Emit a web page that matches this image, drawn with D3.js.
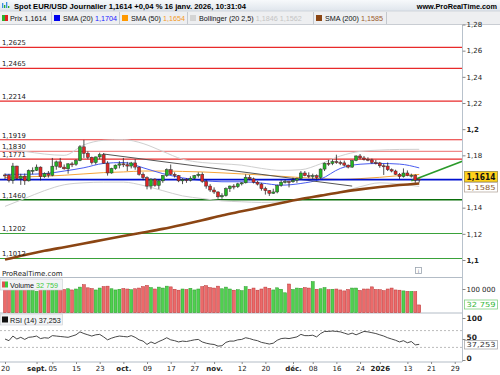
<!doctype html>
<html>
<head>
<meta charset="utf-8">
<title>Spot EUR/USD</title>
<style>
  body { margin: 0; background: #fff; }
  svg { display: block; font-family: "DejaVu Sans", Verdana, sans-serif; }
</style>
</head>
<body>
<div id="here"></div>
<script src="https://d3js.org/d3.v7.min.js"></script>
<script>
var w = 500, h = 375;

// daily candles, 20 aug 2025 -> 16 jan 2026
var open = [1.1650,1.1649,1.1609,1.1718,1.1622,1.1641,1.1605,1.1683,
  1.1686,1.1710,1.1637,1.1660,1.1648,1.1717,1.1750,1.1710,1.1697,1.1735,1.1732,1.1760,1.1865,1.1815,1.1785,1.1745,1.1788,1.1805,1.1740,1.1665,1.1700,1.1725,
  1.1735,1.1728,1.1718,1.1742,1.1710,1.1655,1.1630,1.1565,1.1618,1.1570,1.1605,1.1645,1.1690,1.1655,1.1645,1.1605,1.1615,1.1610,1.1625,1.1645,1.1655,1.1600,1.1565,
  1.1535,1.1520,1.1483,1.1492,1.1545,1.1565,1.1560,1.1582,1.1590,1.1632,1.1620,1.1595,1.1580,1.1545,1.1530,1.1510,1.1520,1.1570,1.1595,1.1600,
  1.1598,1.1610,1.1622,1.1665,1.1645,1.1640,1.1645,1.1630,1.1695,1.1740,1.1738,1.1752,1.1745,1.1742,1.1725,1.1710,1.1760,1.1795,1.1780,1.1770,1.1765,1.1745,
  1.1742,1.1720,1.1718,1.1690,1.1680,1.1655,1.1638,1.1665,1.1645,1.1648,1.1619];
var high = [1.1662,1.1658,1.1742,1.1720,1.1659,1.1661,1.1692,1.1708,
  1.1730,1.1715,1.1670,1.1680,1.1780,1.1760,1.1780,1.1730,1.1740,1.1750,1.1770,1.1878,1.1918,1.1830,1.1790,1.1790,1.1820,1.1818,1.1755,1.1705,1.1730,1.1755,
  1.1780,1.1750,1.1750,1.1770,1.1715,1.1670,1.1640,1.1625,1.1625,1.1615,1.1650,1.1700,1.1730,1.1670,1.1650,1.1625,1.1625,1.1640,1.1650,1.1670,1.1670,1.1615,1.1580,
  1.1555,1.1525,1.1510,1.1555,1.1570,1.1580,1.1590,1.1595,1.1655,1.1650,1.1630,1.1605,1.1590,1.1560,1.1535,1.1545,1.1575,1.1610,1.1615,1.1605,
  1.1630,1.1630,1.1680,1.1680,1.1670,1.1660,1.1655,1.1700,1.1745,1.1765,1.1770,1.1805,1.1760,1.1760,1.1730,1.1765,1.1800,1.1810,1.1795,1.1785,1.1775,1.1765,
  1.1750,1.1735,1.1745,1.1700,1.1690,1.1665,1.1700,1.1685,1.1660,1.1655,1.1622];
var low = [1.1617,1.1593,1.1583,1.1613,1.1574,1.1574,1.1600,1.1655,
  1.1680,1.1608,1.1628,1.1630,1.1640,1.1690,1.1705,1.1690,1.1660,1.1710,1.1720,1.1755,1.1780,1.1770,1.1730,1.1730,1.1770,1.1735,1.1645,1.1660,1.1690,1.1700,
  1.1710,1.1680,1.1700,1.1690,1.1645,1.1610,1.1540,1.1540,1.1560,1.1542,1.1590,1.1635,1.1650,1.1630,1.1595,1.1580,1.1590,1.1600,1.1615,1.1630,1.1590,1.1545,1.1520,
  1.1505,1.1468,1.1468,1.1485,1.1520,1.1540,1.1550,1.1570,1.1585,1.1610,1.1585,1.1570,1.1530,1.1500,1.1490,1.1505,1.1510,1.1560,1.1585,1.1555,
  1.1590,1.1590,1.1615,1.1640,1.1625,1.1620,1.1615,1.1620,1.1680,1.1720,1.1725,1.1735,1.1725,1.1715,1.1700,1.1705,1.1755,1.1770,1.1760,1.1755,1.1735,1.1730,
  1.1705,1.1650,1.1680,1.1670,1.1650,1.1620,1.1630,1.1640,1.1630,1.1590,1.1592];
var close = [1.1649,1.1609,1.1718,1.1622,1.1641,1.1605,1.1683,1.1686,
  1.1710,1.1637,1.1660,1.1648,1.1717,1.1750,1.1710,1.1697,1.1735,1.1732,1.1760,1.1865,1.1815,1.1785,1.1745,1.1788,1.1805,1.1740,1.1665,1.1700,1.1725,1.1735,
  1.1728,1.1718,1.1742,1.1710,1.1655,1.1630,1.1565,1.1618,1.1570,1.1605,1.1645,1.1690,1.1655,1.1645,1.1605,1.1615,1.1610,1.1625,1.1645,1.1655,1.1600,1.1565,1.1535,
  1.1520,1.1483,1.1492,1.1545,1.1565,1.1560,1.1582,1.1590,1.1632,1.1620,1.1595,1.1580,1.1545,1.1530,1.1510,1.1520,1.1570,1.1595,1.1600,1.1598,
  1.1610,1.1622,1.1665,1.1645,1.1640,1.1645,1.1630,1.1695,1.1740,1.1738,1.1752,1.1745,1.1742,1.1725,1.1710,1.1760,1.1795,1.1780,1.1770,1.1765,1.1745,1.1742,
  1.1720,1.1718,1.1690,1.1680,1.1655,1.1638,1.1665,1.1645,1.1648,1.1610,1.1614];
var volume = [98000,101000,112000,97000,103000,99000,96000,94000,
  90000,104000,100000,97000,115000,96000,100000,98000,101000,96000,100000,108000,118000,105000,102000,96000,104000,110000,112000,101000,96000,99000,
  102000,100000,97000,101000,104000,110000,115000,106000,100000,108000,104000,112000,109000,99000,95000,100000,98000,103000,96000,100000,110000,114000,106000,
  104000,112000,101000,108000,100000,95000,97000,93000,110000,99000,104000,95000,100000,108000,103000,96000,105000,99000,84000,121000,
  98000,104000,103000,106000,104000,131000,99000,101000,106000,97000,99000,100000,96000,92000,98000,104000,104000,94000,100000,100000,109000,98000,
  97000,93000,100000,104000,96000,95000,92000,90000,90000,89000,32759];
var rsi = [50,46,57,50,54,49,54,55,
  57,51,53,52,58,57,56,55,54,57,60,67,63,60,57,60,61,55,48,52,55,57,
  56,55,58,54,48,45,37,43,39,44,48,53,48,46,43,45,44,46,48,49,43,40,38,
  37,33,34,42,45,45,48,49,53,51,48,46,42,40,38,40,47,51,52,51,
  53,55,61,58,58,59,55,63,68,68,69,68,67,64,61,64,60,64,68,67,65,63,
  60,57,53,50,47,43,46,41,44,36,37.253];

// overlays read every 5 bars
var smpIdx = [0,5,10,15,20,25,30,35,40,45,50,55,60,65,70,75,80,85,90,95,100,105];
var sma20  = [1.1655,1.1655,1.1660,1.1680,1.1705,1.1738,1.1745,1.1705,1.1660,1.1628,1.1608,1.1598,1.1598,1.1588,1.1572,1.1585,1.1618,1.1700,1.1732,1.1738,1.1733,1.1704];
var sma50  = [1.1630,1.1635,1.1640,1.1648,1.1658,1.1668,1.1673,1.1680,1.1680,1.1677,1.1673,1.1666,1.1658,1.1650,1.1640,1.1630,1.1622,1.1616,1.1622,1.1632,1.1645,1.1654];
var sma200 = [1.1003,1.1038,1.1070,1.1098,1.1126,1.1155,1.1183,1.1210,1.1238,1.1270,1.1304,1.1340,1.1372,1.1404,1.1436,1.1466,1.1492,1.1518,1.1540,1.1558,1.1573,1.1585];
var bbUp   = [1.1850,1.1830,1.1810,1.1800,1.1880,1.1915,1.1920,1.1890,1.1830,1.1770,1.1745,1.1735,1.1725,1.1700,1.1685,1.1690,1.1735,1.1795,1.1830,1.1840,1.1845,1.1846];
var bbLow  = [1.1410,1.1470,1.1530,1.1575,1.1590,1.1595,1.1595,1.1570,1.1530,1.1490,1.1470,1.1452,1.1445,1.1440,1.1445,1.1465,1.1495,1.1520,1.1560,1.1590,1.1580,1.1562];

// levels and trend lines
var resist = [1.2625, 1.2465, 1.2214, 1.1919, 1.1830, 1.1771];
var support = [1.1460, 1.1202, 1.1012];
var pivot = 1.1614;
var downIdx = [25, 88], downVal = [1.1810, 1.1565];
var upIdx = [103, 116], upVal = [1.1606, 1.1756];

// 1,16 sits under the price box, as in the original
var priceTicks = [1.1, 1.12, 1.14, 1.18, 1.2, 1.22, 1.24, 1.26, 1.28];
var tickDays = ["2025-08-20","2025-09-01","2025-09-05","2025-09-15","2025-09-23","2025-10-01","2025-10-09","2025-10-17","2025-10-27","2025-11-03",
  "2025-11-12","2025-11-20","2025-12-01","2025-12-08","2025-12-16","2025-12-24","2026-01-02","2026-01-13","2026-01-21","2026-01-29"];
var tickLabels = ["20","sept.","05","15","23","oct.","09","17","27","nov.","12","20","déc.","08","16","24","2026","13","21","29"];

// trading days (weekdays without 25 dec / 1 jan)
var holidays = ["2025-12-25", "2026-01-01"];
var days = [];
for (var d = new Date(Date.UTC(2025, 7, 20)); d <= new Date(Date.UTC(2026, 0, 30)); d.setUTCDate(d.getUTCDate() + 1)) {
  var s = d.toISOString().slice(0, 10);
  if (d.getUTCDay() > 0 && d.getUTCDay() < 6 && holidays.indexOf(s) < 0) days.push(s);
}

var fr = d3.formatLocale({decimal: ",", thousands: " ", grouping: [3], currency: ["", ""]});
var f4 = fr.format(".4f"), fp = fr.format(".2~f"), fv = fr.format(",d");

var axisX = 462;
var x = d3.scalePoint().domain(days).range([5, 5 + (days.length - 1) * 3.945]);
function xi(i) { return x(days[0]) + i * x.step(); }
var y = d3.scaleLinear().domain([1.1, 1.28]).range([260, 24.5]);
var yv = d3.scaleLinear().domain([0, 100000]).range([312.7, 289]);
var yr = d3.scaleLinear().domain([0, 100]).range([360, 318]);

var svg = d3.select("#here").append("svg").attr("width", w).attr("height", h);
var lib = "'Liberation Sans', Arial, sans-serif";

// header
var grad = svg.append("defs").append("linearGradient").attr("id", "hd").attr("x1", 0).attr("x2", 0).attr("y1", 0).attr("y2", 1);
grad.append("stop").attr("offset", 0).attr("stop-color", "#f7f9fb");
grad.append("stop").attr("offset", 1).attr("stop-color", "#dfe5ec");
svg.select("defs").append("clipPath").attr("id", "main").append("rect")
  .attr("x", 0).attr("y", 25).attr("width", axisX).attr("height", 252);

svg.append("rect").attr("width", w).attr("height", 11).attr("fill", "url(#hd)");
svg.append("rect").attr("y", 11).attr("width", w).attr("height", 13.5).attr("fill", "#eeeff1");
svg.append("line").attr("x1", 0).attr("x2", w).attr("y1", 24.5).attr("y2", 24.5).attr("stroke", "#c9cdd3");
svg.append("line").attr("x1", 0).attr("x2", w).attr("y1", 11).attr("y2", 11).attr("stroke", "#cfd5dc");

// small icon
[[2, 5, "#3a8ede"], [4, 3, "#2bb02b"], [6, 6, "#3a8ede"], [8, 2, "#2bb02b"]].forEach(function(b) {
  svg.append("rect").attr("x", b[0]).attr("y", 9 - b[1] - 1).attr("width", 1.3).attr("height", b[1]).attr("fill", b[2]);
});
svg.append("text").attr("x", 14).attr("y", 9).attr("font-size", 7.8).attr("font-weight", "bold").attr("font-family", lib)
  .attr("textLength", 232).attr("lengthAdjust", "spacingAndGlyphs")
  .text("Spot EUR/USD Journalier " + f4(pivot) + " +0,04 % 16 janv. 2026, 10:31:04");
svg.append("text").attr("x", 497).attr("y", 9).attr("font-size", 7.3).attr("font-weight", "bold").attr("font-family", lib)
  .attr("text-anchor", "end").text("www.ProRealTime.com");

// legend row: name then value, value placed after the measured name
function legendText(x0, yy, name, val, vcol) {
  var t1 = svg.append("text").attr("x", x0).attr("y", yy).attr("font-size", 7.2).attr("font-family", lib).attr("fill", "#111").text(name);
  var wd = t1.node().getComputedTextLength();
  svg.append("text").attr("x", x0 + wd + 2).attr("y", yy).attr("font-size", 7.2).attr("font-family", lib).attr("fill", vcol).text(val);
}
var legend = [
  {x: 54, col: "#0000ee", name: "SMA (20)", val: f4(sma20[sma20.length - 1]), vcol: "#1a1aff"},
  {x: 122, col: "#ff9900", name: "SMA (50)", val: f4(sma50[sma50.length - 1]), vcol: "#f39a1e"},
  {x: 190, col: "#d4d4d4", name: "Bollinger (20 2,5)", val: f4(bbUp[bbUp.length - 1]) + " " + f4(bbLow[bbLow.length - 1]), vcol: "#c4c4c4"},
  {x: 316, col: "#8b4513", name: "SMA (200)", val: f4(sma200[sma200.length - 1]), vcol: "#9a5a2a"}
];
svg.append("rect").attr("x", 2).attr("y", 15).attr("width", 3).attr("height", 6).attr("fill", "#2bb02b");
svg.append("rect").attr("x", 5).attr("y", 15).attr("width", 3).attr("height", 6).attr("fill", "#e02020");
legendText(10, 21, "Prix", f4(close[close.length - 1]), "#111");
[51, 119, 187, 313, 386].forEach(function(sx) {
  svg.append("line").attr("x1", sx + 0.5).attr("x2", sx + 0.5).attr("y1", 12).attr("y2", 24).attr("stroke", "#c4c8ce");
});
legend.forEach(function(l) {
  svg.append("rect").attr("x", l.x).attr("y", 15).attr("width", 6).attr("height", 6).attr("fill", l.col);
  legendText(l.x + 9, 21, l.name, l.val, l.vcol);
});

// main panel
var main = svg.append("g").attr("clip-path", "url(#main)");

// horizontal levels
main.selectAll(".res").data(resist).enter().append("line")
  .attr("x1", 0).attr("x2", axisX).attr("y1", function(d) { return y(d); }).attr("y2", function(d) { return y(d); })
  .attr("stroke", function(d) { return d === 1.1830 ? "#f08a8a" : "#e82a2a"; }).attr("stroke-width", 1.1);
main.selectAll(".sup").data(support).enter().append("line")
  .attr("x1", 0).attr("x2", axisX).attr("y1", function(d) { return y(d); }).attr("y2", function(d) { return y(d); })
  .attr("stroke", function(d, i) { return i === 0 ? "#0a6e0a" : "#3aa23a"; }).attr("stroke-width", function(d, i) { return i === 0 ? 1.5 : 1.1; });

var lv = resist.concat(support);
svg.selectAll(".lvl").data(lv).enter().append("text")
  .attr("x", 2).attr("y", function(d) { return y(d) - 2.2; }).attr("font-size", 6.8).attr("fill", "#222")
  .text(function(d) { return f4(d); });

// overlays
var line = d3.line().x(function(d) { return xi(d[0]); }).y(function(d) { return y(d[1]); }).curve(d3.curveMonotoneX);
function pts(arr) { return smpIdx.map(function(k, i) { return [k, arr[i]]; }); }
main.append("path").attr("d", line(pts(bbUp))).attr("fill", "none").attr("stroke", "#cfcfcf").attr("stroke-width", 1);
main.append("path").attr("d", line(pts(bbLow))).attr("fill", "none").attr("stroke", "#cfcfcf").attr("stroke-width", 1);
main.append("path").attr("d", line(pts(sma50))).attr("fill", "none").attr("stroke", "#f5a53a").attr("stroke-width", 1);
main.append("path").attr("d", line(pts(sma20))).attr("fill", "none").attr("stroke", "#4a5cf0").attr("stroke-width", 1);
main.append("path").attr("d", line(pts(sma200))).attr("fill", "none").attr("stroke", "#8b4513").attr("stroke-width", 2.6);

main.append("line").attr("x1", xi(downIdx[0])).attr("x2", xi(downIdx[1])).attr("y1", y(downVal[0])).attr("y2", y(downVal[1]))
  .attr("stroke", "#555").attr("stroke-width", 1);
main.append("line").attr("x1", 0).attr("x2", axisX).attr("y1", y(pivot)).attr("y2", y(pivot))
  .attr("stroke", "#0010d0").attr("stroke-width", 1.6);
main.append("line").attr("x1", xi(upIdx[0])).attr("x2", xi(upIdx[1])).attr("y1", y(upVal[0])).attr("y2", y(upVal[1]))
  .attr("stroke", "#2a9a2a").attr("stroke-width", 1.5);

// candles
var bars = close.map(function(c, i) { return {i: i, o: open[i], h: high[i], l: low[i], c: c, v: volume[i], r: rsi[i]}; });
var cg = main.selectAll(".cdl").data(bars).enter().append("g");
cg.append("line").attr("x1", function(d) { return xi(d.i); }).attr("x2", function(d) { return xi(d.i); })
  .attr("y1", function(d) { return y(d.h); }).attr("y2", function(d) { return y(d.l); })
  .attr("stroke", "#222").attr("stroke-width", 0.8);
cg.append("rect").attr("x", function(d) { return xi(d.i) - 1.5; }).attr("width", 3)
  .attr("y", function(d) { return y(Math.max(d.o, d.c)); })
  .attr("height", function(d) { return Math.max(1, Math.abs(y(d.o) - y(d.c))); })
  .attr("fill", function(d) { return d.c >= d.o ? "#22b422" : "#e02424"; })
  .attr("stroke", "#333").attr("stroke-width", 0.5);

svg.append("text").attr("x", 2).attr("y", 275.5).attr("font-size", 7).attr("fill", "#222").text("ProRealTime.com");
svg.append("rect").attr("x", 415.5).attr("y", 267.5).attr("width", 6).attr("height", 6).attr("fill", "#fff").attr("stroke", "#9aa4ae").attr("stroke-width", 0.8);
svg.append("text").attr("x", 418.5).attr("y", 272.5).attr("font-size", 5).attr("text-anchor", "middle").attr("fill", "#66707a").text("i");

// panel separators
[277.5, 313, 362].forEach(function(sy) {
  svg.append("line").attr("x1", 0).attr("x2", axisX).attr("y1", sy).attr("y2", sy).attr("stroke", "#b3bcc6");
});

// volume
svg.selectAll(".vol").data(bars).enter().append("rect")
  .attr("x", function(d) { return xi(d.i) - 1.5; }).attr("width", 3)
  .attr("y", function(d) { return yv(d.v); }).attr("height", function(d) { return yv(0) - yv(d.v); })
  .attr("fill", function(d) { return d.c >= d.o ? "#4fd04f" : "#ec6a6a"; })
  .attr("stroke", function(d) { return d.c >= d.o ? "#2a9a2a" : "#b83434"; }).attr("stroke-width", 0.5);

// RSI
[70, 30].forEach(function(v) {
  svg.append("line").attr("x1", 0).attr("x2", axisX).attr("y1", yr(v)).attr("y2", yr(v))
    .attr("stroke", "#bbb").attr("stroke-dasharray", "2,2");
});
svg.append("path").datum(bars)
  .attr("d", d3.line().x(function(d) { return xi(d.i); }).y(function(d) { return yr(d.r); }))
  .attr("fill", "none").attr("stroke", "#333").attr("stroke-width", 0.9);

// panel legends
function panelLegend(yy, icon, name, val, vcol) {
  svg.append("rect").attr("x", 0.5).attr("y", yy).attr("width", 62).attr("height", 11).attr("fill", "#f2f3f5").attr("stroke", "#c9cdd3").attr("stroke-width", 0.6);
  icon(yy);
  legendText(10, yy + 8.5, name, val, vcol);
}
panelLegend(279, function(yy) {
  svg.append("rect").attr("x", 2).attr("y", yy + 2.5).attr("width", 3).attr("height", 6).attr("fill", "#e05050");
  svg.append("rect").attr("x", 5).attr("y", yy + 2.5).attr("width", 3).attr("height", 6).attr("fill", "#3cc83c");
}, "Volume", fv(volume[volume.length - 1]), "#3cc83c");
panelLegend(314, function(yy) {
  svg.append("rect").attr("x", 2).attr("y", yy + 2.5).attr("width", 6).attr("height", 6).attr("fill", "#111");
}, "RSI (14)", fr.format(".3f")(rsi[rsi.length - 1]), "#111");

// right axes
svg.append("line").attr("x1", axisX + 0.5).attr("x2", axisX + 0.5).attr("y1", 25).attr("y2", 362).attr("stroke", "#b8c2cc");
var ax = svg.append("g").attr("transform", "translate(" + (axisX + 0.5) + ",0)")
  .call(d3.axisRight(y).tickValues(priceTicks).tickSize(3).tickFormat(fp));
ax.select(".domain").remove();
ax.selectAll("line").attr("stroke", "#888");
ax.selectAll("text").attr("font-size", 7).attr("font-family", "DejaVu Sans").attr("fill", "#222").attr("x", 4)
  .attr("font-weight", function(d) { return Math.abs(d * 10 - Math.round(d * 10)) < 1e-9 ? "bold" : "normal"; });

// 50 000 tick sits under the volume box
var avx = svg.append("g").attr("transform", "translate(" + (axisX + 0.5) + ",0)")
  .call(d3.axisRight(yv).tickValues([100000]).tickSize(3).tickFormat(fv));
avx.select(".domain").remove();
avx.selectAll("line").attr("stroke", "#888");
avx.selectAll("text").attr("font-size", 7).attr("font-family", "DejaVu Sans").attr("fill", "#222").attr("x", 4);

var arx = svg.append("g").attr("transform", "translate(" + (axisX + 0.5) + ",0)")
  .call(d3.axisRight(yr).tickValues([0, 50, 100]).tickSize(3));
arx.select(".domain").remove();
arx.selectAll("line").attr("stroke", "#888");
arx.selectAll("text").attr("font-size", 7.5).attr("font-family", "DejaVu Sans").attr("fill", "#222").attr("x", 4).attr("font-weight", "bold")
  .attr("dy", function(d) { return d === 0 ? "0em" : d === 50 ? "0.05em" : "0.32em"; });

// value boxes
function valBox(y0, hgt, fill, stroke, txt, col, bold, size) {
  svg.append("rect").attr("x", 464.5).attr("y", y0).attr("width", 33).attr("height", hgt)
    .attr("fill", fill).attr("stroke", stroke).attr("stroke-width", 0.8);
  svg.append("text").attr("x", 466.5).attr("y", y0 + hgt - 2.2).attr("font-size", size)
    .attr("font-weight", bold ? "bold" : "normal").attr("fill", col)
    .attr("textLength", 29).attr("lengthAdjust", "spacingAndGlyphs").text(txt);
}
valBox(171.5, 10.5, "#ffd21c", "#9a8a40", f4(close[close.length - 1]), "#111", true, 8);
valBox(182.5, 9.5, "#fff", "#b7aaa0", f4(sma200[sma200.length - 1]), "#8b5a2b", false, 7);
valBox(300, 9, "#fff", "#7fd07f", fv(volume[volume.length - 1]), "#36b836", false, 7);
valBox(340.5, 8.5, "#fff", "#aaa", fr.format(".3f")(rsi[rsi.length - 1]), "#333", false, 7);

// date axis
var dx = svg.append("g").attr("transform", "translate(0,362)")
  .call(d3.axisBottom(x).tickValues(tickDays).tickSize(2).tickFormat(function(d, i) { return tickLabels[i]; }));
dx.select(".domain").remove();
dx.selectAll("line").attr("stroke", "#888");
dx.selectAll("text").attr("font-size", 7).attr("font-family", "DejaVu Sans").attr("fill", "#222").attr("y", 4)
  .attr("font-weight", function(d, i) { return /[a-z.]|2026/.test(tickLabels[i]) ? "bold" : "normal"; });
</script>
</body>
</html>
